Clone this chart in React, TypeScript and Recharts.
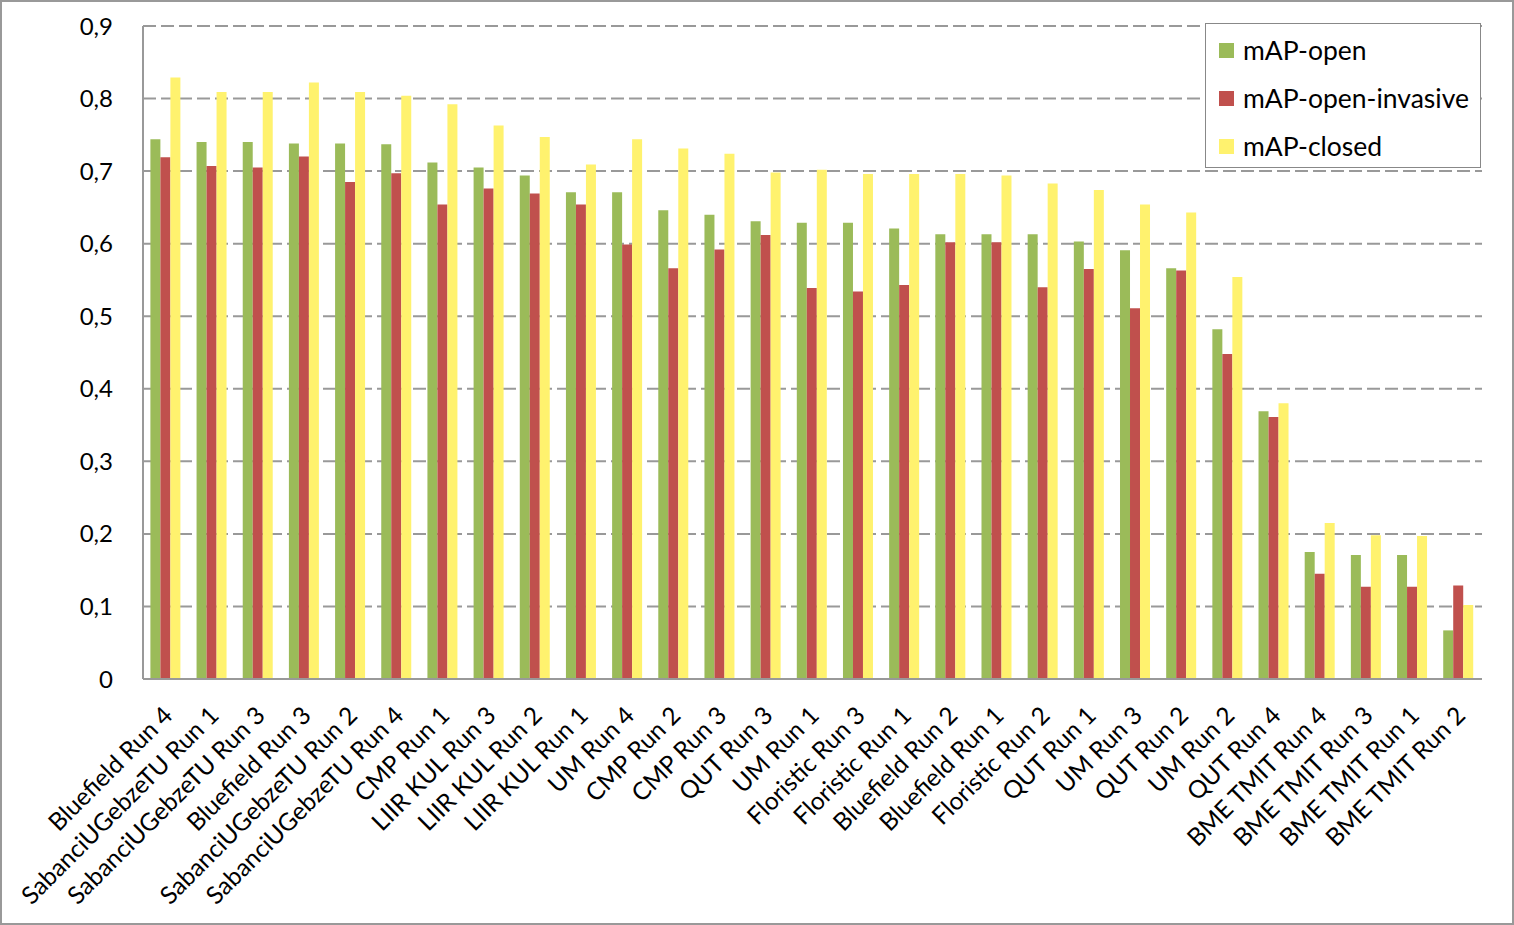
import React from 'react';
import {BarChart, Bar, XAxis, YAxis, CartesianGrid} from 'recharts';

const categories = [
    'Bluefield Run 4', 'SabanciUGebzeTU Run 1', 'SabanciUGebzeTU Run 3', 'Bluefield Run 3',
    'SabanciUGebzeTU Run 2', 'SabanciUGebzeTU Run 4', 'CMP Run 1', 'LIIR KUL Run 3',
    'LIIR KUL Run 2', 'LIIR KUL Run 1', 'UM Run 4', 'CMP Run 2', 'CMP Run 3', 'QUT Run 3',
    'UM Run 1', 'Floristic Run 3', 'Floristic Run 1', 'Bluefield Run 2', 'Bluefield Run 1',
    'Floristic Run 2', 'QUT Run 1', 'UM Run 3', 'QUT Run 2', 'UM Run 2', 'QUT Run 4',
    'BME TMIT Run 4', 'BME TMIT Run 3', 'BME TMIT Run 1', 'BME TMIT Run 2',
];

const mapOpen = [
    0.744, 0.740, 0.740, 0.738, 0.738, 0.737, 0.712, 0.705, 0.694, 0.671, 0.671, 0.646,
    0.640, 0.631, 0.629, 0.629, 0.621, 0.613, 0.613, 0.613, 0.603, 0.591, 0.566, 0.482,
    0.369, 0.175, 0.171, 0.171, 0.067,
];
const mapOpenInvasive = [
    0.719, 0.707, 0.705, 0.720, 0.685, 0.697, 0.654, 0.676, 0.669, 0.654, 0.599, 0.566,
    0.592, 0.612, 0.539, 0.534, 0.543, 0.602, 0.602, 0.540, 0.565, 0.511, 0.563, 0.448,
    0.361, 0.145, 0.127, 0.127, 0.129,
];
const mapClosed = [
    0.829, 0.809, 0.809, 0.822, 0.809, 0.804, 0.792, 0.763, 0.747, 0.709, 0.744, 0.731,
    0.724, 0.698, 0.702, 0.696, 0.696, 0.696, 0.694, 0.683, 0.674, 0.654, 0.643, 0.554,
    0.380, 0.215, 0.198, 0.197, 0.102,
];

const yTicks = [0, 0.1, 0.2, 0.3, 0.4, 0.5, 0.6, 0.7, 0.8, 0.9];

const series = [
    {key: 'open', name: 'mAP-open', color: '#9BBB59', values: mapOpen},
    {key: 'invasive', name: 'mAP-open-invasive', color: '#C0504D', values: mapOpenInvasive},
    {key: 'closed', name: 'mAP-closed', color: '#FFF26E', values: mapClosed},
];

const data = categories.map((name, i) => {
    const row: any = {name};
    series.forEach(s => {
        row[s.key] = s.values[i];
    });
    return row;
});

const FONT = 'Lato, "Noto Sans", sans-serif';

const XTick = (props: any) => {
    const {x, y, payload} = props;
    return (
        <g transform={`translate(${x + 8},${y + 30})`}>
            <text textAnchor="end" transform="rotate(-45)" fontSize={24.5} fill="#000" fontFamily={FONT}>
                {payload.value}
            </text>
        </g>
    );
};

// legend drawn as an overlay box, like the Excel one
const LegendBox = () => (
    <div style={{
        position: 'absolute',
        left: 1203,
        top: 21,
        border: '1px solid #888',
        background: '#fff',
        width: 276,
        height: 145,
        boxSizing: 'border-box',
        paddingLeft: 13,
        paddingTop: 2,
        fontFamily: FONT,
        fontSize: 26.5,
    }}>
        {series.map(s => (
            <div key={s.key} style={{display: 'flex', alignItems: 'center', height: 48}}>
                <span style={{width: 15, height: 15, background: s.color, marginRight: 9, display: 'inline-block'}}/>
                <span>{s.name}</span>
            </div>
        ))}
    </div>
);

const App = () => {
    return (
        <div style={{
            position: 'absolute', left: 0, top: 0, width: 1514, height: 925,
            border: '2px solid #999', boxSizing: 'border-box', background: '#fff',
        }}>
            <BarChart
                width={1510}
                height={921}
                data={data}
                margin={{top: 24, right: 30, left: 0, bottom: 0}}
                barCategoryGap="16%"
                barGap={0}
                style={{fontFamily: FONT}}
            >
                <CartesianGrid vertical={false} stroke="#999" strokeDasharray="13 5" strokeWidth={2}/>
                <XAxis
                    dataKey="name"
                    interval={0}
                    height={244}
                    tick={<XTick/>}
                    tickLine={false}
                    axisLine={{stroke: '#999', strokeWidth: 2}}
                />
                <YAxis
                    width={141}
                    domain={[0, 0.9]}
                    ticks={yTicks}
                    tickFormatter={(v: number) => String(Math.round(v * 10) / 10).replace('.', ',')}
                    tick={{fontSize: 24, fill: '#000', fontFamily: FONT}}
                    tickLine={false}
                    tickMargin={24}
                    axisLine={{stroke: '#999', strokeWidth: 2}}
                    allowDataOverflow
                />
                {series.map(s => (
                    <Bar key={s.key} dataKey={s.key} name={s.name} fill={s.color} isAnimationActive={false}/>
                ))}
            </BarChart>
            <LegendBox/>
        </div>
    );
};

export default App;
